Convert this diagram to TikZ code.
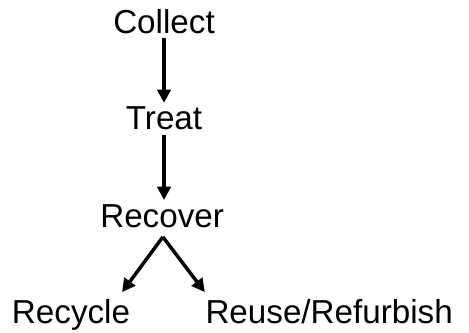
\documentclass[tikz,border=0pt]{standalone}
\usepackage{fontspec}
\setmainfont{Liberation Sans}
\usetikzlibrary{arrows.meta}
\tikzset{
  flow diagram/.style={font=\fontsize{25}{30}\selectfont, line cap=butt},
  flow step/.style={anchor=base, inner sep=3pt},
  flow arrow/.style={-{Triangle[length=10pt,width=10pt]}, line width=2.6pt}
}
\begin{document}
\begin{tikzpicture}[flow diagram]
\useasboundingbox (0,0) rectangle (12.41,8.81);
\node[flow step] (collect) at (4.34,7.92) {Collect};
\node[flow step] (treat) at (4.34,5.37) {Treat};
\node[flow step] (recover) at (4.29,2.80) {Recover};
\node[flow step] (recycle) at (1.88,0.26) {Recycle};
\node[flow step] (reuse) at (8.71,0.26) {Reuse/Refurbish};
\coordinate (split) at (4.31,2.54);
\coordinate (recycle tip) at (3.23,1.08);
\coordinate (reuse tip) at (5.42,1.08);
\draw[flow arrow] (collect) -- (treat);
\draw[flow arrow] (treat) -- (treat |- recover.north);
\draw[flow arrow] (split) -- (recycle tip);
\draw[flow arrow] (split) -- (reuse tip);
\end{tikzpicture}
\end{document}
